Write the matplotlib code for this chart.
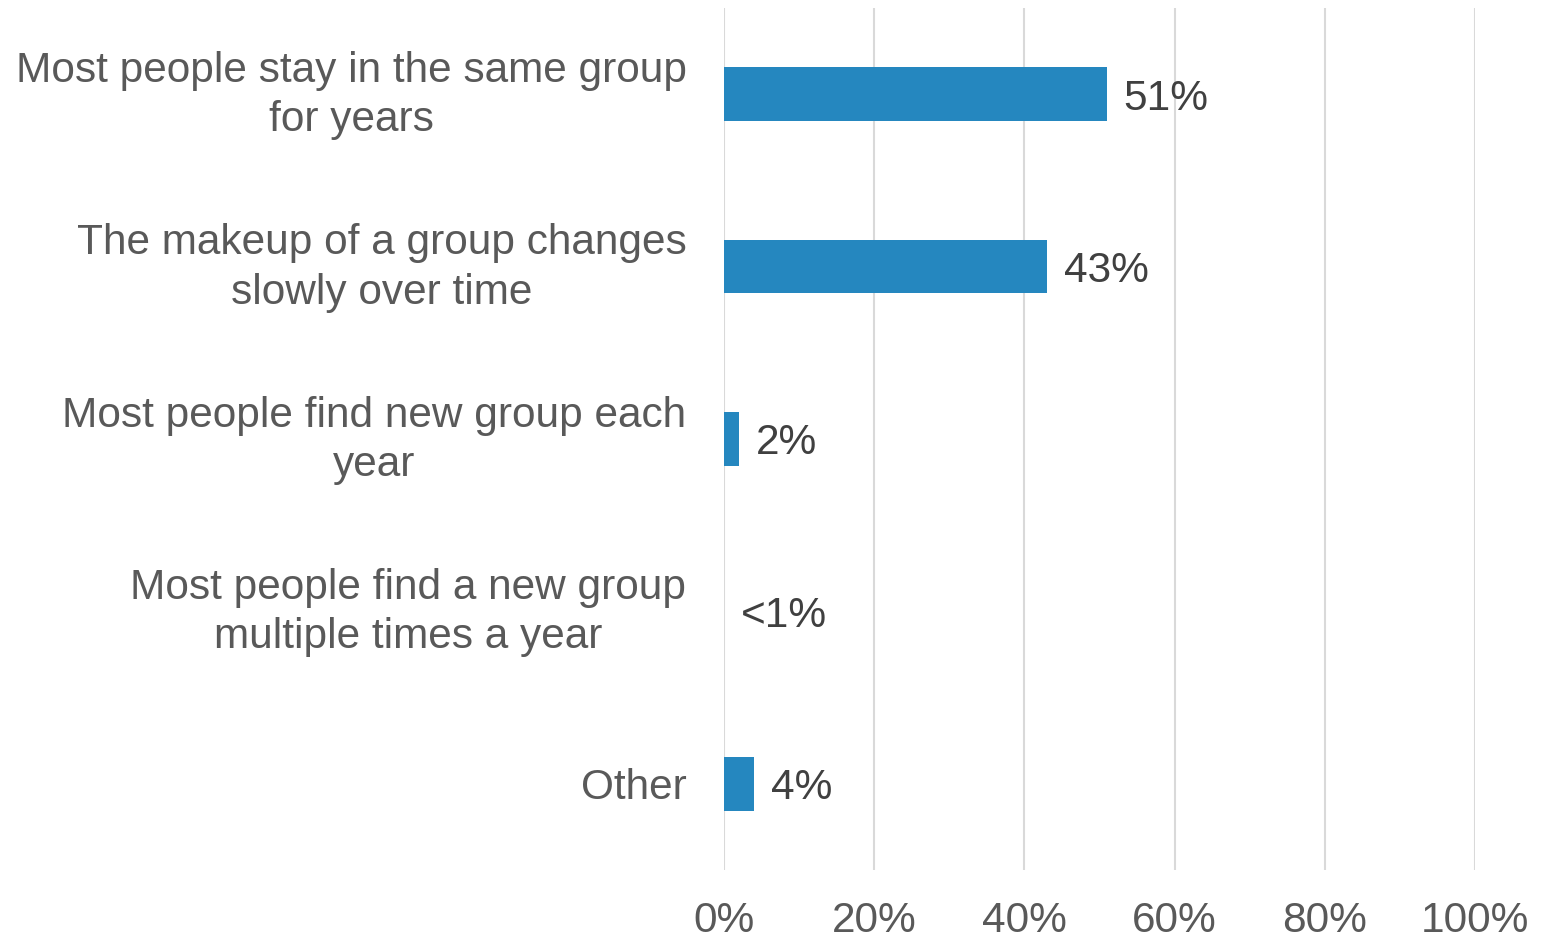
import matplotlib.pyplot as plt

plt.rcParams['font.family'] = ['Liberation Sans', 'DejaVu Sans']

# data
categories = [
    'Most people stay in the same group\nfor years',
    'The makeup of a group changes\nslowly over time',
    'Most people find new group each\nyear',
    'Most people find a new group\nmultiple times a year',
    'Other',
]
values = [51, 43, 2, 0, 4]
value_labels = ['51%', '43%', '2%', '<1%', '4%']
xticks = [0, 20, 40, 60, 80, 100]

fig = plt.figure(figsize=(15.41, 9.41), dpi=100)
ax = fig.add_axes([724 / 1541, 1 - 870 / 941, (1475 - 724) / 1541, (870 - 8) / 941])

ypos = list(range(len(categories)))
ax.barh(ypos, values, height=0.31, color='#2587BF', zorder=3)

for y, v, lab in zip(ypos, values, value_labels):
    ax.annotate(lab, (v, y), xytext=(12, 0), textcoords='offset points',
                va='center_baseline', ha='left', fontsize=30.5, color='#404040')

# category labels drawn by hand so the two-line ones can sit centred on the bars
for y, cat in zip(ypos, categories):
    dy = -1 if '\n' in cat else -3
    ax.annotate(cat, (0, y), xycoords=('axes fraction', 'data'),
                xytext=(-27, dy), textcoords='offset points',
                ha='right', va='center', multialignment='center',
                linespacing=1.3, fontsize=30.5, color='#595959')

ax.set_xlim(0, 100)
ax.set_ylim(len(categories) - 0.5, -0.5)
ax.set_xticks(xticks)
ax.set_xticklabels([f'{t}%' for t in xticks])
ax.set_yticks([])

ax.tick_params(axis='x', length=0, pad=22, labelsize=30.5, labelcolor='#595959')
ax.grid(axis='x', color='#D9D9D9', linewidth=1.5, zorder=0)
for s in ax.spines.values():
    s.set_visible(False)

plt.savefig('out.png', dpi=100)
